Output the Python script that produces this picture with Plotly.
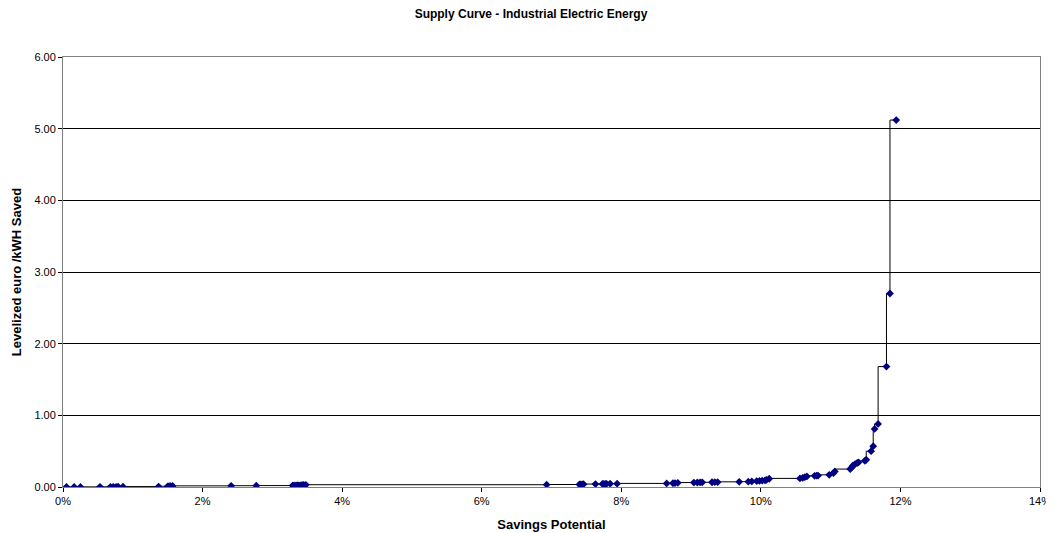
import plotly.graph_objects as go

# savings potential (fraction) and levelized cost (euro/kWh saved)
savings = [
    0.0005, 0.0016, 0.0025, 0.0053, 0.0068, 0.0072, 0.0076, 0.0079, 0.0086,
    0.0137, 0.0150, 0.0152, 0.0154, 0.0157, 0.0241, 0.0277,
    0.0329, 0.0331, 0.0334, 0.0336, 0.0338, 0.0341, 0.0343, 0.0345, 0.0348,
    0.0693, 0.0740, 0.0742, 0.0744, 0.0746, 0.0763, 0.0773, 0.0775, 0.0777,
    0.0779, 0.0784, 0.0794, 0.0865, 0.0874, 0.0877, 0.0881,
    0.0904, 0.0909, 0.0913, 0.0916, 0.0930, 0.0934, 0.0938,
    0.0969, 0.0982, 0.0987, 0.0994, 0.0998, 0.1002, 0.1006, 0.1008, 0.1012,
    0.1056, 0.1060, 0.1063, 0.1066, 0.1077, 0.1080, 0.1082, 0.1098, 0.1104,
    0.1106, 0.1128, 0.1130, 0.1132, 0.1135, 0.1138, 0.1140, 0.1149, 0.1151,
    0.1158, 0.1161, 0.1163, 0.1168, 0.1180, 0.1185, 0.1194,
]
cost = [
    0.000, 0.001, 0.001, 0.002, 0.003, 0.003, 0.003, 0.004, 0.004,
    0.006, 0.010, 0.012, 0.013, 0.014, 0.016, 0.018,
    0.020, 0.021, 0.022, 0.023, 0.024, 0.026, 0.027, 0.029, 0.030,
    0.032, 0.035, 0.036, 0.038, 0.040, 0.041, 0.042, 0.043, 0.044,
    0.045, 0.046, 0.047, 0.050, 0.052, 0.055, 0.058,
    0.062, 0.063, 0.064, 0.065, 0.066, 0.067, 0.068,
    0.072, 0.075, 0.078, 0.082, 0.085, 0.088, 0.092, 0.100, 0.115,
    0.120, 0.128, 0.138, 0.148, 0.156, 0.158, 0.160, 0.170, 0.195,
    0.218, 0.250, 0.270, 0.300, 0.320, 0.335, 0.345, 0.365, 0.380,
    0.500, 0.570, 0.810, 0.880, 1.680, 2.700, 5.120,
]

fig = go.Figure()

fig.add_trace(go.Scatter(
    x=savings, y=cost, mode="lines+markers",
    line=dict(color="black", width=1, shape="vh"),
    marker=dict(symbol="diamond", size=6, color="#000080"),
    showlegend=False,
))

# page body adds ~8px on top/left, so the figure is a bit smaller than the window
fig.update_layout(
    width=1046, height=525,
    margin=dict(l=55, r=14, t=49, b=46),
    paper_bgcolor="white", plot_bgcolor="white",
    font=dict(family="Liberation Sans, Arial", size=11, color="black"),
    title=dict(text="<b>Supply Curve - Industrial Electric Energy</b>",
               x=0.5, xanchor="center", y=0.989, yanchor="middle",
               font=dict(size=12)),
)

fig.update_xaxes(
    range=[0, 0.14], dtick=0.02, tickformat=".0%",
    showgrid=False, zeroline=False, automargin=False,
    showline=True, linecolor="#808080", linewidth=1, mirror=True,
    ticks="outside", ticklen=4, tickcolor="black",
    title=dict(text="<b>Savings Potential</b>", standoff=13),
)
fig.update_yaxes(
    range=[0, 6], dtick=1, tickformat=".2f",
    showgrid=True, gridcolor="black", gridwidth=1, zeroline=False,
    automargin=False,
    showline=True, linecolor="#808080", linewidth=1, mirror=True,
    ticks="outside", ticklen=4, tickcolor="black",
    title=dict(text="<b>Levelized euro /kWH Saved</b>", standoff=9),
)

fig.write_html("out.html")
